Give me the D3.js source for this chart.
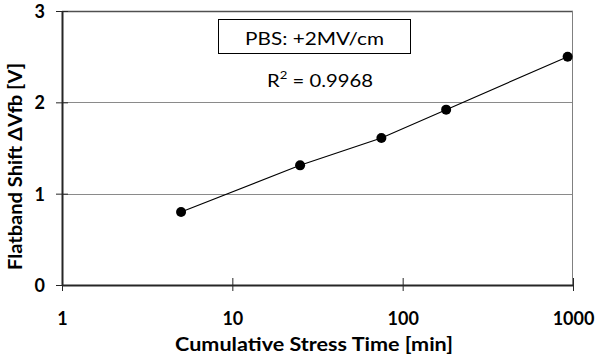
<!DOCTYPE html>
<html>
<head>
<meta charset="utf-8">
<script src="https://cdn.jsdelivr.net/npm/d3@7"></script>
<style>
  body { margin: 0; background: #fff; }
  svg { display: block; }
  text { font-family: Lato, "Open Sans", sans-serif; fill: #000; }
</style>
</head>
<body>
<div id="chart"></div>
<script>
// stress time [min] and flatband shift [V]
var stressTime = [5, 25, 75, 180, 930];
var flatbandShift = [0.8, 1.31, 1.61, 1.92, 2.5];
var xTicks = [1, 10, 100, 1000];
var yTicks = [0, 1, 2, 3];
var legendLabel = "PBS: +2MV/cm";
var r2Label = "0.9968";

var W = 595, H = 355;
var margin = {top: 11, right: 22, bottom: 70, left: 62};
var width = W - margin.left - margin.right,
    height = H - margin.top - margin.bottom;

var svg = d3.select("#chart").append("svg")
    .attr("width", W)
    .attr("height", H);

var g = svg.append("g")
    .attr("transform", "translate(" + margin.left + "," + margin.top + ")");

var x = d3.scaleLog().domain([1, 1000]).range([0, width]);
var y = d3.scaleLinear().domain([0, 3]).range([height, 0]);

// squeeze/stretch a text horizontally to a target width (reference text is wide)
function fitWidth(sel, target, cx, cy) {
    var w = sel.node().getComputedTextLength();
    var s = target / w;
    sel.attr("transform", "translate(" + cx + "," + cy + ") scale(" + s + ",1)");
}

// gridlines
g.selectAll(".grid")
    .data(yTicks.filter(function(d) { return d > 0 && d < 3; }))
    .enter().append("line")
    .attr("x1", 0).attr("x2", width)
    .attr("y1", function(d) { return Math.round(y(d)) + 0.5; })
    .attr("y2", function(d) { return Math.round(y(d)) + 0.5; })
    .style("stroke", "#8a8a8a")
    .style("stroke-width", 1);

// plot area border
g.append("line")
    .attr("x1", 0).attr("x2", width).attr("y1", 0.5).attr("y2", 0.5)
    .style("stroke", "#505050").style("stroke-width", 1.6);
g.append("line")
    .attr("x1", width - 0.5).attr("x2", width - 0.5).attr("y1", 0).attr("y2", height)
    .style("stroke", "#808080").style("stroke-width", 1);

// y axis
var yAxis = g.append("g")
    .call(d3.axisLeft(y).tickValues(yTicks).tickFormat(d3.format("d")).tickSizeOuter(0));
yAxis.select(".domain").style("stroke", "#262626").style("stroke-width", 2);
yAxis.selectAll(".tick line").attr("x1", 6).attr("x2", -6).style("stroke", "#262626");
yAxis.selectAll(".tick text")
    .attr("x", -17)
    .attr("dy", "0.36em")
    .style("font-size", "18px")
    .style("font-weight", "bold")
    .style("fill", "#000");

// x axis
var xAxis = g.append("g")
    .attr("transform", "translate(0," + height + ")")
    .call(d3.axisBottom(x).tickValues(xTicks).tickFormat(d3.format("d")).tickSizeOuter(0));
xAxis.select(".domain").style("stroke", "#262626").style("stroke-width", 2);
xAxis.selectAll(".tick line").attr("y1", -7).attr("y2", 6).style("stroke", "#262626");
xAxis.selectAll(".tick text")
    .attr("y", 40)
    .attr("dy", 0)
    .style("font-size", "18px")
    .style("font-weight", "bold")
    .style("fill", "#000");

// data line + markers
var line = d3.line()
    .x(function(d) { return x(d[0]); })
    .y(function(d) { return y(d[1]); });
var pts = d3.zip(stressTime, flatbandShift);

g.append("path")
    .datum(pts)
    .attr("d", line)
    .style("fill", "none")
    .style("stroke", "#000")
    .style("stroke-width", 1.1);

g.selectAll(".pt")
    .data(pts)
    .enter().append("circle")
    .attr("cx", function(d) { return x(d[0]); })
    .attr("cy", function(d) { return y(d[1]); })
    .attr("r", 5)
    .style("fill", "#000");

// legend box
var lg = svg.append("g");
lg.append("rect")
    .attr("x", 218.5).attr("y", 19.5)
    .attr("width", 192).attr("height", 34)
    .style("fill", "#fff")
    .style("stroke", "#000")
    .style("stroke-width", 1);
var lt = lg.append("text")
    .attr("text-anchor", "middle")
    .style("font-size", "17px")
    .text(legendLabel);
fitWidth(lt, 139, 314.5, 45);

var r2 = lg.append("text")
    .attr("text-anchor", "middle")
    .style("font-size", "17px");
r2.append("tspan").text("R");
r2.append("tspan").attr("dy", -8).style("font-size", "11px").text("2");
r2.append("tspan").attr("dy", 8).text(" = " + r2Label);
fitWidth(r2, 106, 320, 87);

// axis titles
var xt = svg.append("text")
    .attr("text-anchor", "middle")
    .style("font-size", "19px")
    .style("font-weight", "bold")
    .text("Cumulative Stress Time [min]");
fitWidth(xt, 278, 314, 351);

var yt = svg.append("text")
    .attr("text-anchor", "middle")
    .style("font-size", "18px")
    .style("font-weight", "bold")
    .text("Flatband Shift \u0394Vfb [V]");
var ytw = yt.node().getComputedTextLength();
yt.attr("transform", "translate(22,166.5) rotate(-90) scale(" + (207 / ytw) + ",1)");
</script>
</body>
</html>
